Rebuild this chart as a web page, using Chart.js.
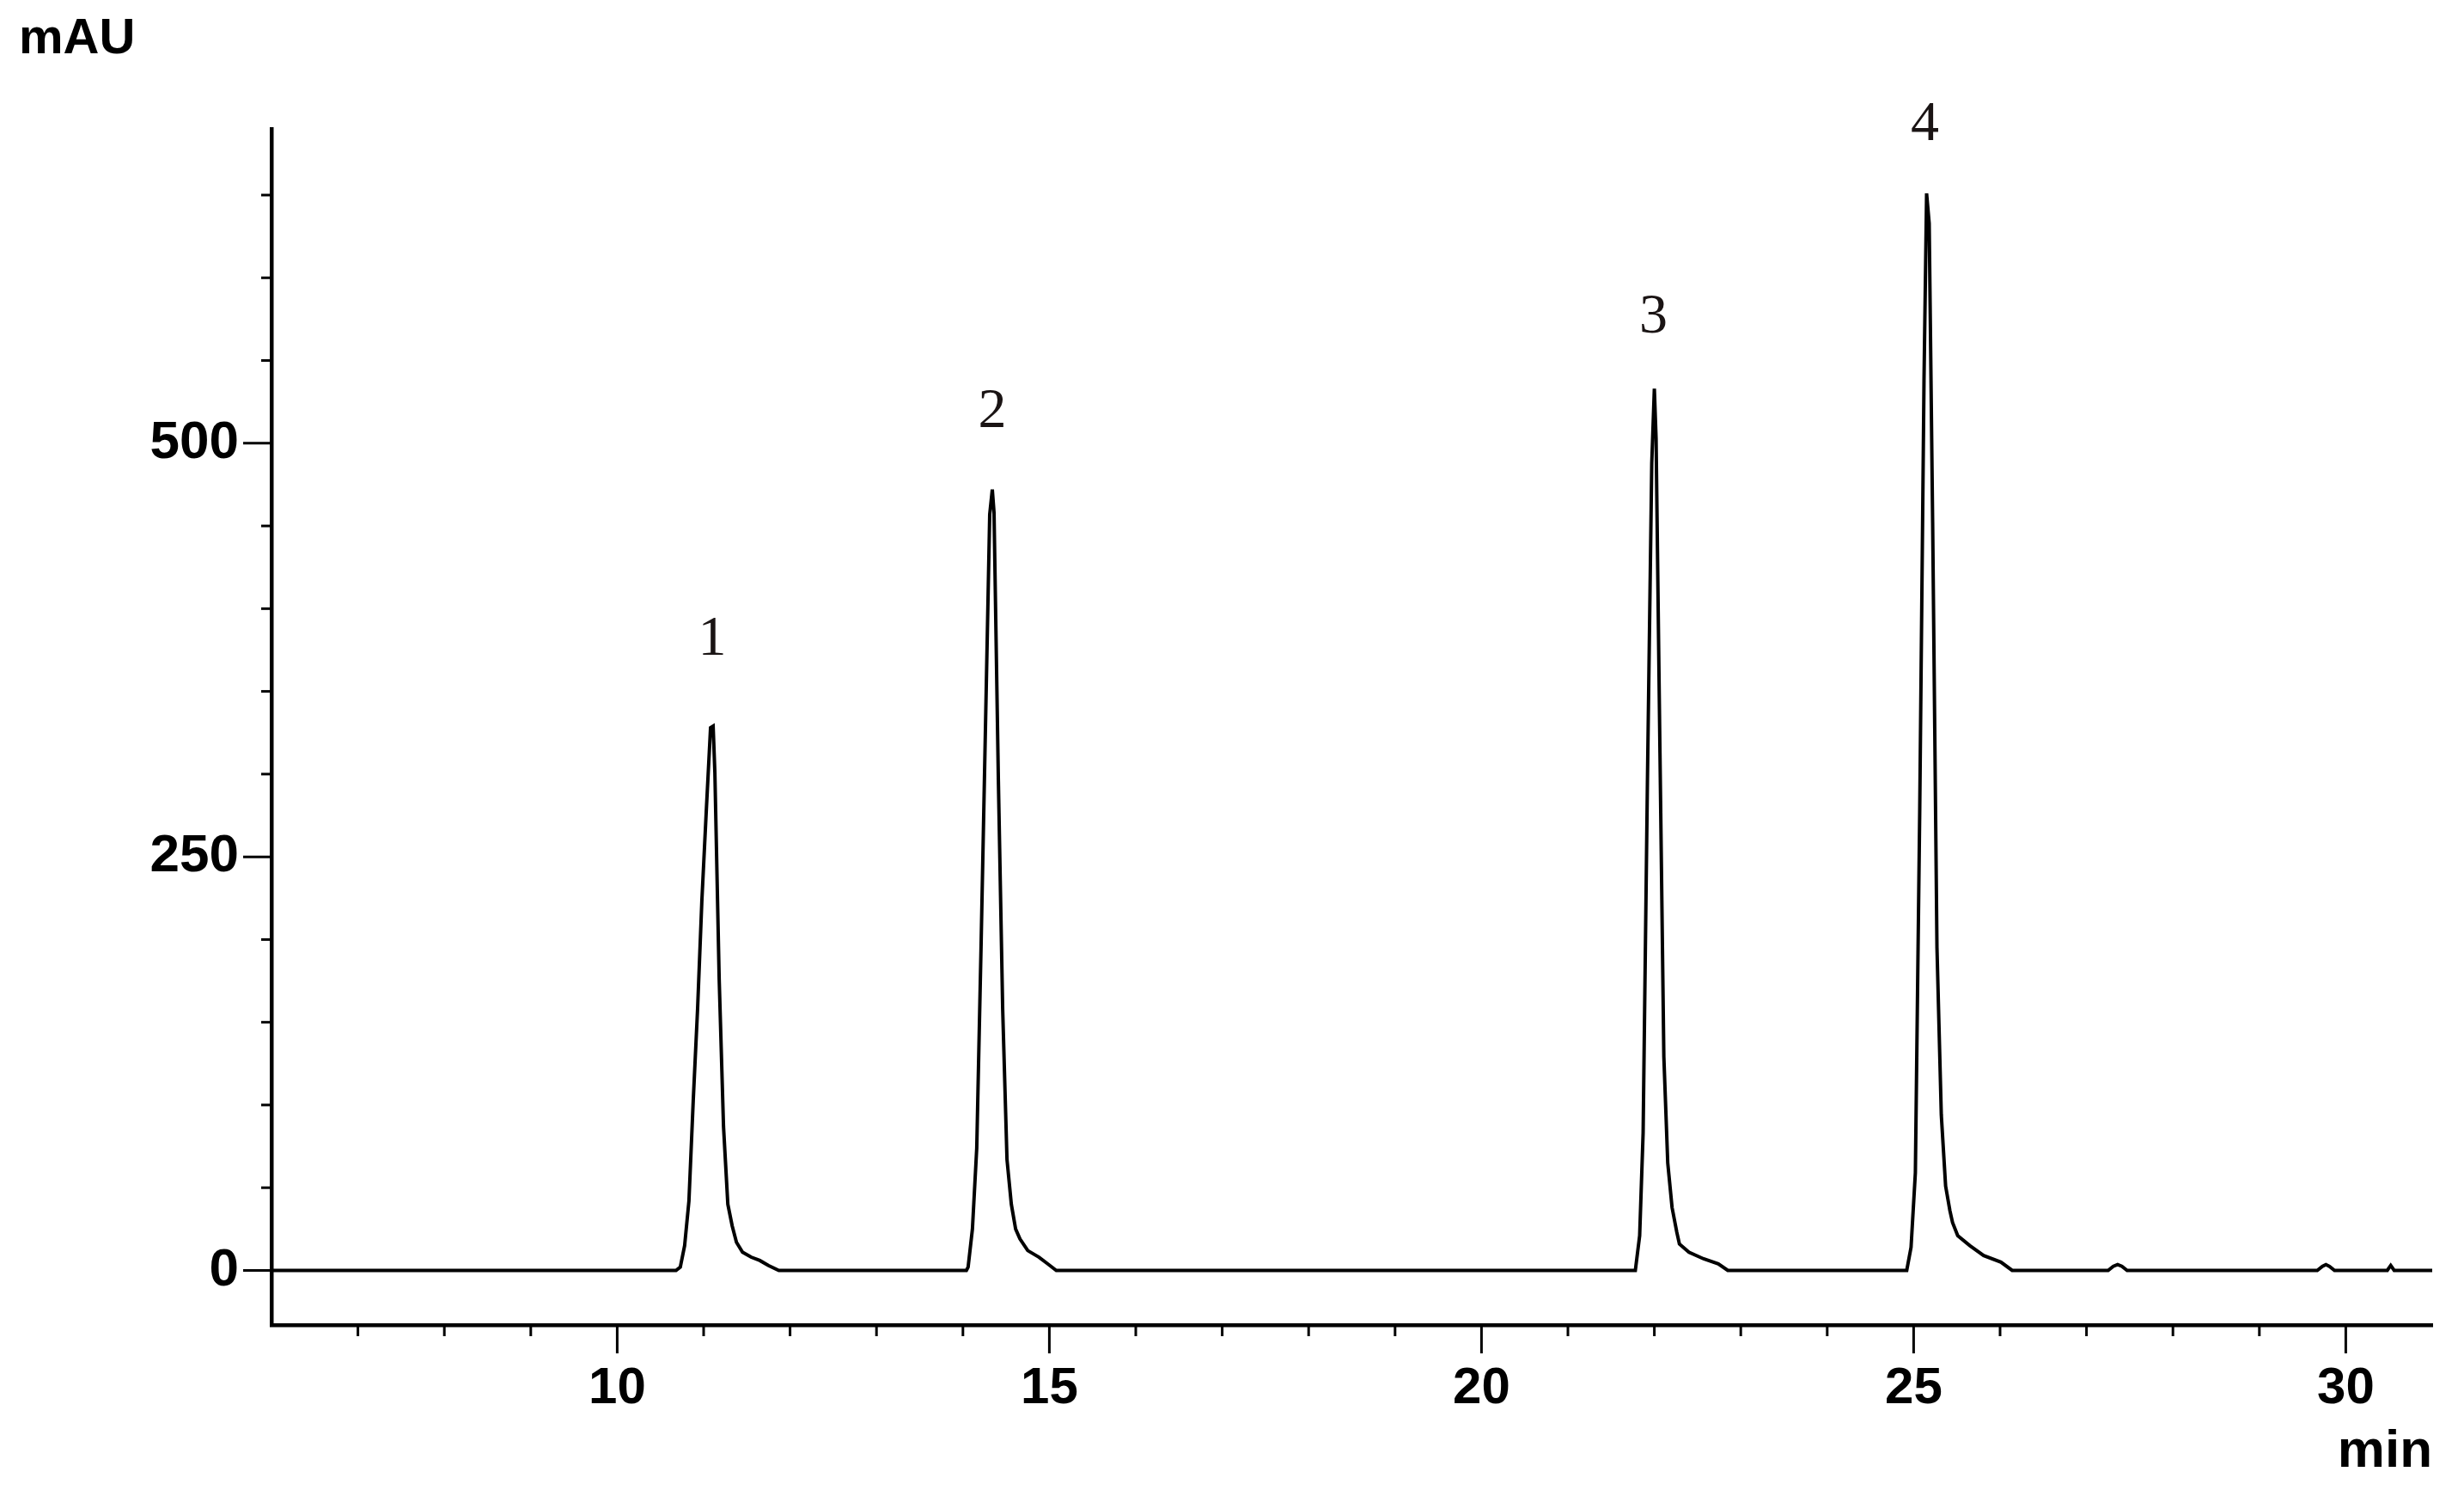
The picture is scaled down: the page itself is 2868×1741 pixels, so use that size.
<!DOCTYPE html>
<html>
<head>
<meta charset="utf-8">
<title>Chromatogram</title>
<script src="https://cdn.jsdelivr.net/npm/chart.js@4.4.1/dist/chart.umd.min.js"></script>
<style>
    html, body { margin: 0; padding: 0; background: #fff; }
    #wrap { width: 2868px; height: 1741px; position: relative; }
</style>
</head>
<body>
<div id="wrap"><canvas id="chromChart"></canvas></div>
<script>
// ==== TRACE DATA (retention time in min, signal in mAU) ====
const runStart = [6.0, 0];
const runEnd = [31.0, 0];

const peak1Time = [10.60, 10.68, 10.73, 10.78, 10.83, 10.88, 10.93, 10.98, 11.03, 11.08, 11.11, 11.13, 11.18, 11.23, 11.28, 11.33, 11.38, 11.45, 11.55, 11.65, 11.75, 11.87];
const peak1mAU  = [0, 0, 2, 15, 42, 103, 158, 224, 277, 328, 329, 301, 176, 87, 40, 27, 17, 11, 8, 6, 3, 0];

const peak2Time = [14.00, 14.04, 14.06, 14.11, 14.16, 14.21, 14.26, 14.31, 14.34, 14.36, 14.41, 14.46, 14.51, 14.56, 14.61, 14.66, 14.75, 14.88, 14.98, 15.08];
const peak2mAU  = [0, 0, 2, 25, 74, 196, 326, 457, 472, 458, 297, 158, 67, 40, 25, 19, 12, 8, 4, 0];

const peak3Time = [21.70, 21.78, 21.83, 21.87, 21.92, 21.97, 22.00, 22.02, 22.065, 22.11, 22.155, 22.205, 22.26, 22.29, 22.40, 22.57, 22.74, 22.85];
const peak3mAU  = [0, 0, 21, 83, 296, 488, 533, 503, 313, 129, 65, 38, 23, 16, 11, 7, 4, 0];

const peak4Time = [24.85, 24.92, 24.97, 25.02, 25.07, 25.12, 25.15, 25.18, 25.22, 25.27, 25.32, 25.37, 25.42, 25.45, 25.51, 25.65, 25.81, 26.01, 26.14];
const peak4mAU  = [0, 0, 14, 59, 276, 538, 651, 633, 452, 195, 94, 51, 36, 29, 21, 15, 9, 5, 0];

// small bumps near the end of the run
const minorTime = [27.25, 27.31, 27.36, 27.41, 27.47, 29.67, 29.73, 29.77, 29.81, 29.87, 30.48, 30.52, 30.56];
const minormAU  = [0, 2.5, 3.5, 2.5, 0, 0, 2.5, 3.5, 2.5, 0, 0, 3, 0];

// ==== PEAK NUMBERS ====
const peakNames = ["1", "2", "3", "4"];
const peakNameTime = [11.10, 14.34, 21.99, 25.13];
const peakNamemAU = [381, 519, 576, 692];

// ==== AXES ====
const xRange = [6, 31];
const yRange = [-33, 690];
const xLabelEvery = 5;
const yLabelEvery = 250;

// ==== BUILD POINTS ====
function toPoints(times, values) {
    return times.map((t, i) => ({ x: t, y: values[i] }));
}

const tracePoints = [
    { x: runStart[0], y: runStart[1] },
    ...toPoints(peak1Time, peak1mAU),
    ...toPoints(peak2Time, peak2mAU),
    ...toPoints(peak3Time, peak3mAU),
    ...toPoints(peak4Time, peak4mAU),
    ...toPoints(minorTime, minormAU),
    { x: runEnd[0], y: runEnd[1] }
];

const sansFont = "'Liberation Sans', Arial, sans-serif";

// ===== TICK MARKS, AXIS UNITS, PEAK NUMBERS =====
const decorPlugin = {
    id: "decor",
    afterDraw(chart) {
        const ctx = chart.ctx;
        const xs = chart.scales.x;
        const ys = chart.scales.y;
        const area = chart.chartArea;

        ctx.save();
        ctx.strokeStyle = "#000";
        ctx.lineWidth = 3;

        ys.ticks.forEach(t => {
            const y = ys.getPixelForValue(t.value);
            const len = t.value % yLabelEvery === 0 ? 33 : 12;
            ctx.beginPath();
            ctx.moveTo(area.left - len, y);
            ctx.lineTo(area.left, y);
            ctx.stroke();
        });

        xs.ticks.forEach(t => {
            if (t.value <= xs.min || t.value >= xs.max) return;
            const x = xs.getPixelForValue(t.value);
            const len = t.value % xLabelEvery === 0 ? 33 : 13;
            ctx.beginPath();
            ctx.moveTo(x, area.bottom);
            ctx.lineTo(x, area.bottom + len);
            ctx.stroke();
        });

        ctx.fillStyle = "#000";
        ctx.font = "bold 58px " + sansFont;
        ctx.textAlign = "left";
        ctx.textBaseline = "alphabetic";
        ctx.fillText("mAU", 22, 62);

        ctx.font = "bold 62px " + sansFont;
        ctx.textAlign = "right";
        ctx.fillText("min", area.right, 1707);

        ctx.font = "66px 'Liberation Serif'";
        ctx.fillStyle = "#1a1414";
        ctx.textAlign = "center";
        ctx.textBaseline = "middle";
        peakNames.forEach((name, i) => {
            ctx.fillText(name, xs.getPixelForValue(peakNameTime[i]), ys.getPixelForValue(peakNamemAU[i]));
        });
        ctx.restore();
    }
};

// ===== CHART =====
new Chart(document.getElementById("chromChart"), {
    type: "line",
    data: {
        datasets: [{
            data: tracePoints,
            borderColor: "#000",
            borderWidth: 4,
            pointRadius: 0,
            tension: 0,
            fill: false
        }]
    },
    options: {
        responsive: true,
        maintainAspectRatio: false,
        animation: false,
        events: [],
        layout: { padding: { top: 150, right: 37, left: 0, bottom: 0 } },
        plugins: { legend: { display: false }, tooltip: { enabled: false } },
        scales: {
            x: {
                type: "linear",
                min: xRange[0],
                max: xRange[1],
                border: { display: true, color: "#000", width: 4.5 },
                grid: { display: true, drawOnChartArea: false, drawTicks: true, tickLength: 33, color: "transparent" },
                ticks: {
                    stepSize: 1,
                    includeBounds: false,
                    autoSkip: false,
                    maxRotation: 0,
                    padding: 5,
                    color: "#000",
                    font: { family: sansFont, weight: "bold", size: 60 },
                    callback: v => (v % xLabelEvery === 0 ? String(v) : "")
                },
                afterFit: scale => { scale.height = 1741 - 1542; }
            },
            y: {
                type: "linear",
                min: yRange[0],
                max: yRange[1],
                border: { display: true, color: "#000", width: 4.5 },
                grid: { display: true, drawOnChartArea: false, drawTicks: true, tickLength: 33, color: "transparent" },
                ticks: {
                    stepSize: 50,
                    includeBounds: false,
                    autoSkip: false,
                    padding: 5,
                    color: "#000",
                    font: { family: sansFont, weight: "bold", size: 62 },
                    callback: v => (v % yLabelEvery === 0 ? String(v) : "")
                },
                afterFit: scale => { scale.width = 316; }
            }
        }
    },
    plugins: [decorPlugin]
});
</script>
</body>
</html>
